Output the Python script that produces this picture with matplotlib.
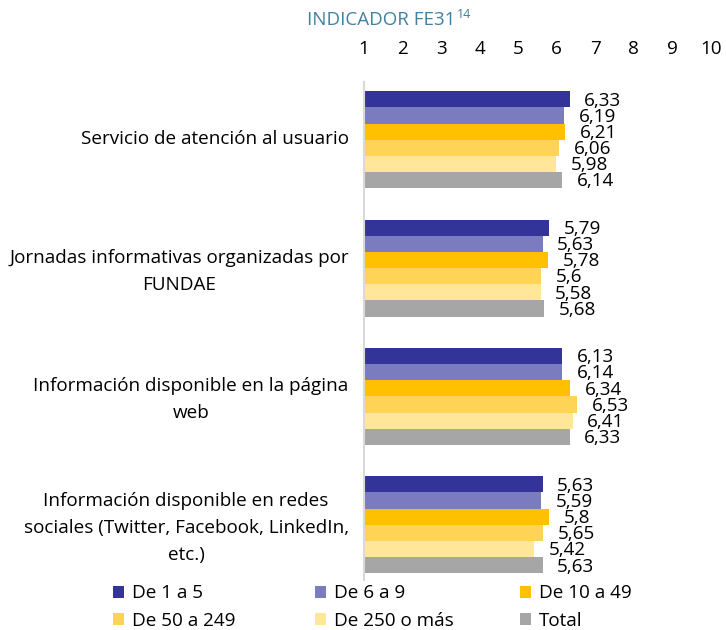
import matplotlib.pyplot as plt
import matplotlib.transforms as mtransforms
from matplotlib.patches import Patch
import numpy as np

plt.rcParams['font.family'] = ['Open Sans', 'DejaVu Sans']

# data
categories = [
    'Servicio de atención al usuario',
    'Jornadas informativas organizadas por\nFUNDAE',
    'Información disponible en la página\nweb',
    'Información disponible en redes\nsociales (Twitter, Facebook, LinkedIn,\netc.)',
]
series_names = ['De 1 a 5', 'De 6 a 9', 'De 10 a 49', 'De 50 a 249', 'De 250 o más', 'Total']
de_1_5 = [6.33, 5.79, 6.13, 5.63]
de_6_9 = [6.19, 5.63, 6.14, 5.59]
de_10_49 = [6.21, 5.78, 6.34, 5.8]
de_50_249 = [6.06, 5.6, 6.53, 5.65]
de_250_mas = [5.98, 5.58, 6.41, 5.42]
total = [6.14, 5.68, 6.33, 5.63]
ticks = [1, 2, 3, 4, 5, 6, 7, 8, 9, 10]

series = [de_1_5, de_6_9, de_10_49, de_50_249, de_250_mas, total]
colors = ['#333399', '#7b7bbf', '#ffc000', '#ffd355', '#ffe699', '#a6a6a6']

fs = 13.6

fig = plt.figure(figsize=(7.26, 6.30), dpi=100)
ax = fig.add_axes([364/726, 1 - 580/630, (711-364)/726, (580-82)/630])

y = np.arange(len(categories))
bh = 0.126
for i, (vals, c) in enumerate(zip(series, colors)):
    pos = y + (i - 2.5) * bh
    ax.barh(pos, vals, height=bh, color=c, edgecolor='none')
    for p, v in zip(pos, vals):
        ax.text(v + 0.38, p + 0.01, str(v).replace('.', ','), va='center', ha='left', fontsize=fs)

ax.set_xlim(1, 10)
ax.set_ylim(3.43, -0.45)
ax.set_xticks(ticks)
ax.xaxis.tick_top()
ax.tick_params(axis='x', length=0, pad=17, labelsize=fs)
ax.set_yticks(y)
ax.set_yticklabels(categories, fontsize=fs, ha='right', multialignment='center', linespacing=1.62)
ax.tick_params(axis='y', length=0, pad=11)
# nudge category labels up a little
shift = mtransforms.ScaledTranslation(0, 3/100, fig.dpi_scale_trans)
for lbl in ax.get_yticklabels():
    lbl.set_transform(lbl.get_transform() + shift)
for s in ['top', 'right', 'bottom']:
    ax.spines[s].set_visible(False)
ax.spines['left'].set_color('#d9d9d9')
ax.spines['left'].set_linewidth(1.5)

# title with superscript
title = fig.text(381/726, 1 - 20/630, 'INDICADOR FE31', color='#41809f', fontsize=13.5,
                 ha='center', va='center')
fig.canvas.draw()
bb = title.get_window_extent()
fig.text((bb.x1 + 2) / 726, 1 - 15/630, '14', color='#41809f', fontsize=9, ha='left', va='center')

# legend: three columns, two rows
handles = [Patch(facecolor=c, edgecolor='none') for c in colors]
col_x = [113, 315, 520]
for j, x in enumerate(col_x):
    fig.legend([handles[j], handles[j + 3]], [series_names[j], series_names[j + 3]],
               loc='center left', bbox_to_anchor=(x/726, 1 - 607/630),
               frameon=False, fontsize=fs, handlelength=0.6, handleheight=0.6,
               handletextpad=0.4, labelspacing=0.5, borderpad=0, borderaxespad=0)

fig.savefig('out.png', dpi=100)
